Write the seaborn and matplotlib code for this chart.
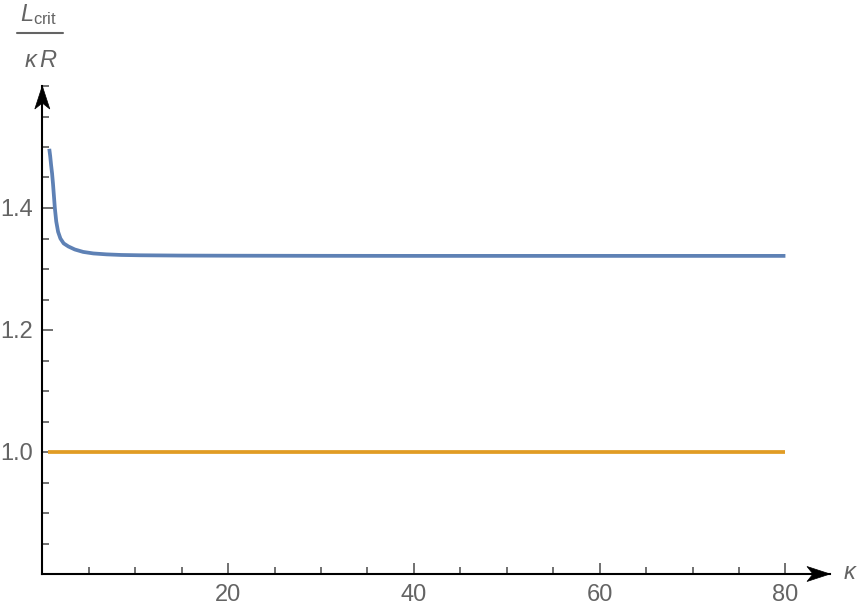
import numpy as np
import pandas as pd
import matplotlib
matplotlib.use("Agg")
import matplotlib.pyplot as plt
from matplotlib.lines import Line2D
from matplotlib.patches import Polygon
from matplotlib.ticker import MultipleLocator
import seaborn as sns

# values
kappa_crit = [0.75, 0.85, 0.95, 1.05, 1.15, 1.25, 1.35, 1.5, 1.7, 1.95, 2.3, 2.8, 3.5, 4.4,
              5.5, 6.9, 8.5, 10.5, 15, 20, 30, 40, 60, 80]
lcrit_ratio = [1.497, 1.485, 1.470, 1.457, 1.440, 1.420, 1.400, 1.378, 1.361, 1.350, 1.342,
               1.337, 1.332, 1.328, 1.3255, 1.324, 1.323, 1.3225, 1.322, 1.3218, 1.3216,
               1.3215, 1.3215, 1.3215]
kappa_ref = [0.6, 80]
ref_ratio = [1.0, 1.0]

x_ticks = [20, 40, 60, 80]
y_ticks = [1.0, 1.2, 1.4]

blue = "#5E81B5"
orange = "#E19C24"
gray = "#646464"

sns.set_style("white")
plt.rcParams["font.family"] = ["Liberation Sans", "DejaVu Sans"]
plt.rcParams["mathtext.fontset"] = "custom"
plt.rcParams["mathtext.rm"] = "Liberation Sans"
plt.rcParams["mathtext.it"] = "Liberation Sans:italic"

df = pd.DataFrame({"kappa": kappa_crit, "ratio": lcrit_ratio})
df_ref = pd.DataFrame({"kappa": kappa_ref, "ratio": ref_ratio})

fig = plt.figure(figsize=(8.63, 6.14), dpi=100)
W, H = 863, 614
ax = fig.add_axes([42.3 / W, 40 / H, (830 - 42.3) / W, (574 - 86) / H])

sns.lineplot(data=df, x="kappa", y="ratio", ax=ax, color=blue, lw=2.7,
             solid_capstyle="butt", solid_joinstyle="round", clip_on=False)
sns.lineplot(data=df_ref, x="kappa", y="ratio", ax=ax, color=orange, lw=2.7,
             solid_capstyle="butt", clip_on=False)

ax.set_xlim(0, 84.8)
ax.set_ylim(0.8, 1.6)
ax.set_xlabel("")
ax.set_ylabel("")

ax.set_xticks(x_ticks)
ax.set_yticks(y_ticks)
ax.set_yticklabels([f"{v:.1f}" for v in y_ticks])
ax.xaxis.set_minor_locator(MultipleLocator(5))
ax.yaxis.set_minor_locator(MultipleLocator(0.05))
ax.tick_params(which="both", direction="in", color=gray, width=1.3,
               bottom=True, left=True, labelsize=17, labelcolor=gray, pad=7)
ax.tick_params(which="major", length=8)
ax.tick_params(which="minor", length=5)

for s in ["top", "right"]:
    ax.spines[s].set_visible(False)
for s in ["left", "bottom"]:
    ax.spines[s].set_color("black")
    ax.spines[s].set_linewidth(1.5)
    ax.spines[s].set_zorder(3)

# arrow heads at the axis ends
fig.canvas.draw()
ox, oy = ax.transAxes.transform((0, 0))
tx, _ = ax.transAxes.transform((1, 0))
_, ty = ax.transAxes.transform((0, 1))
L, Wd, N = 23, 7.5, 17
head_x = [(tx, oy), (tx - L, oy + Wd), (tx - N, oy), (tx - L, oy - Wd)]
head_y = [(ox, ty), (ox - Wd, ty - L), (ox, ty - N), (ox + Wd, ty - L)]
for pts in (head_x, head_y):
    fig.patches.append(Polygon(pts, closed=True, transform=None, facecolor="black",
                               edgecolor="black", lw=0.5))

# axis labels
fig.text(850 / W, 1 - 573 / H, r"$\kappa$", fontsize=17, color=gray, ha="center", va="center")
fig.text(39 / W, 1 - 21 / H, r"$L_{\mathrm{crit}}$", fontsize=17, color=gray,
         ha="center", va="baseline")
fig.add_artist(Line2D([17 / W, 63 / W], [1 - 33.3 / H, 1 - 33.3 / H], color=gray, lw=1.5))
fig.text(41 / W, 1 - 67 / H, r"$\kappa\,R$", fontsize=17, color=gray,
         ha="center", va="baseline")

fig.savefig("out.png", dpi=100)
